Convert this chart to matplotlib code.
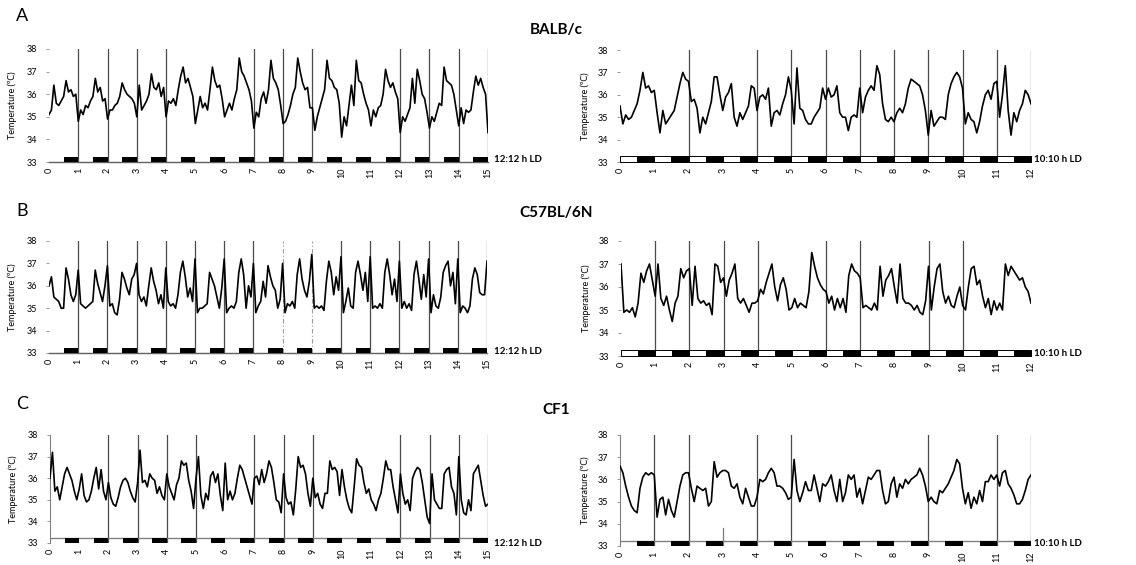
import numpy as np
import matplotlib
matplotlib.use("Agg")
import matplotlib.pyplot as plt
from matplotlib.patches import Rectangle

plt.rcParams['font.family'] = ['Lato', 'DejaVu Sans']

# ---------------- data (temperature, sampled every 1/12 day or cycle) ----------------
balb_1212 = [
    35.1, 35.3, 36.4, 35.6, 35.5, 35.7, 35.9, 36.6, 36.1, 36.2, 35.9, 36.0,
    34.8, 35.3, 35.1, 35.5, 35.4, 35.7, 35.9, 36.7, 36.1, 36.3, 35.7, 35.8,
    34.9, 35.3, 35.3, 35.5, 35.6, 35.9, 36.5, 36.2, 36.0, 35.9, 35.8, 35.6,
    35.0, 36.4, 35.3, 35.5, 35.7, 36.0, 36.9, 36.3, 36.2, 36.5, 35.9, 36.3,
    35.0, 35.7, 35.6, 35.8, 35.5, 36.2, 36.8, 37.2, 36.5, 36.7, 36.3, 35.9,
    34.7, 35.3, 35.9, 35.4, 35.6, 35.3, 36.2, 37.2, 36.6, 36.3, 36.4, 35.8,
    35.0, 35.3, 35.6, 35.3, 35.8, 36.2, 37.6, 37.0, 36.8, 36.5, 36.2, 35.7,
    34.5, 35.2, 35.0, 35.8, 36.1, 35.6, 36.2, 37.5, 36.7, 36.5, 36.2, 35.5,
    34.7, 34.8, 35.1, 35.5, 36.0, 36.3, 37.6, 37.0, 36.5, 36.2, 36.3, 35.4,
    35.4, 34.4, 35.0, 35.4, 35.8, 36.2, 37.5, 36.7, 36.6, 36.3, 36.2, 35.6,
    34.1, 35.0, 34.6, 35.5, 36.4, 35.5, 37.5, 36.6, 36.5, 36.0, 35.6, 35.3,
    34.6, 35.3, 35.0, 35.4, 35.5, 36.0, 37.1, 36.6, 36.3, 36.5, 36.1, 35.8,
    34.3, 35.0, 34.8, 35.1, 35.4, 36.7, 35.6, 37.1, 36.6, 36.0, 35.8, 35.2,
    34.5, 35.0, 34.8, 35.2, 35.6, 35.5, 37.2, 36.6, 36.5, 36.4, 36.0, 35.3,
    34.6, 35.4, 34.7, 35.3, 35.2, 35.3, 36.1, 36.8, 36.4, 36.7, 36.3, 36.0,
    34.3]

balb_1010 = [
    35.5, 34.7, 35.1, 34.9, 35.0, 35.3, 35.6, 36.2, 37.0, 36.3, 36.4, 36.1,
    36.2, 35.2, 34.3, 35.3, 34.7, 34.9, 35.1, 35.3, 35.9, 36.5, 37.0, 36.7,
    36.6, 35.7, 35.8, 35.4, 34.3, 35.0, 34.7, 35.2, 35.7, 36.8, 36.8, 36.0,
    35.3, 35.9, 36.1, 36.5, 35.0, 34.6, 35.2, 34.9, 35.2, 35.5, 36.4, 36.3,
    35.3, 35.9, 36.0, 35.8, 36.3, 34.6, 35.2, 35.3, 35.1, 35.6, 36.0, 36.8,
    36.2, 34.7, 37.2, 35.4, 35.3, 34.9, 34.7, 34.7, 35.0, 35.2, 35.4, 36.3,
    35.8, 36.3, 35.9, 36.0, 36.4, 35.2, 35.0, 35.0, 34.4, 35.0, 35.1, 35.0,
    36.3, 35.2, 35.9, 36.2, 36.4, 36.2, 37.3, 36.9, 35.6, 34.9, 34.8, 35.0,
    34.8, 35.2, 35.4, 35.2, 35.6, 36.3, 36.7, 36.6, 36.5, 36.4, 36.0, 35.3,
    34.2, 35.3, 34.6, 34.8, 35.0, 35.0, 34.9, 36.0, 36.5, 36.8, 37.0, 36.8,
    36.3, 34.7, 35.2, 34.9, 34.8, 34.3, 34.8, 35.5, 36.0, 36.2, 35.8, 36.5,
    36.6, 35.0, 36.0, 37.3, 35.3, 34.2, 35.2, 34.8, 35.3, 35.6, 36.2, 36.0,
    35.6]

c57_1212 = [
    36.0, 36.4, 35.5, 35.4, 35.3, 35.0, 35.0, 36.8, 36.3, 35.6, 35.3, 35.6,
    36.7, 35.2, 35.1, 35.0, 35.1, 35.2, 35.3, 36.7, 36.1, 35.7, 35.3, 36.0,
    36.9, 35.1, 35.2, 34.8, 34.7, 35.4, 36.6, 36.3, 35.9, 35.6, 36.3, 36.5,
    37.0, 35.6, 35.3, 35.5, 35.1, 36.0, 36.8, 36.2, 35.8, 35.2, 35.6, 35.0,
    36.8, 35.3, 35.1, 35.2, 35.0, 35.6, 36.6, 37.1, 36.4, 35.5, 35.9, 35.3,
    37.2, 34.8, 35.0, 35.0, 35.1, 35.2, 36.6, 36.3, 36.0, 35.5, 35.0, 35.9,
    37.2, 34.8, 35.0, 35.1, 35.0, 35.3, 36.6, 37.2, 36.5, 35.0, 36.0, 35.5,
    37.0, 34.8, 35.1, 35.3, 36.2, 35.5, 36.9, 36.4, 36.0, 35.8, 35.0, 35.4,
    37.0, 34.8, 35.2, 35.1, 35.3, 35.0, 36.5, 37.2, 36.3, 35.8, 35.5, 36.2,
    37.4, 35.0, 35.1, 35.0, 35.1, 34.9, 36.2, 37.1, 36.6, 35.6, 36.4, 35.8,
    37.3, 34.8, 35.3, 35.9, 35.1, 35.0, 36.6, 37.1, 36.5, 35.8, 36.6, 35.3,
    37.3, 35.0, 35.1, 35.0, 35.2, 35.0, 36.6, 37.2, 36.5, 35.6, 36.3, 35.3,
    37.1, 35.0, 35.3, 35.0, 35.2, 34.9, 36.5, 37.1, 36.3, 35.4, 36.5, 35.5,
    37.2, 34.8, 35.6, 35.1, 35.0, 35.5, 36.6, 36.9, 37.1, 36.0, 36.6, 35.2,
    37.2, 34.8, 35.1, 35.0, 34.8, 35.1, 36.3, 36.8, 36.5, 35.7, 35.6, 35.6,
    37.1]

c57_1010 = [
    37.0, 34.9, 35.0, 34.9, 35.1, 34.7, 35.3, 36.6, 36.2, 36.7, 37.0, 36.3,
    35.6, 37.0, 35.5, 35.2, 35.6, 35.0, 34.5, 35.3, 35.6, 36.8, 36.4, 36.7,
    36.8, 35.2, 36.9, 35.5, 35.3, 35.4, 35.2, 35.3, 34.8, 37.0, 36.9, 36.2,
    36.4, 35.6, 36.3, 36.6, 37.0, 35.5, 35.3, 35.5, 35.2, 34.9, 35.3, 35.3,
    35.4, 35.9, 35.7, 36.2, 36.6, 37.0, 36.0, 35.4, 36.1, 36.4, 35.9, 35.0,
    35.1, 35.5, 35.1, 35.3, 35.2, 35.1, 35.8, 37.5, 36.9, 36.4, 36.1, 35.9,
    35.8, 35.3, 35.6, 35.0, 35.5, 35.1, 35.5, 34.9, 36.5, 37.0, 36.7, 36.6,
    36.4, 35.1, 35.2, 35.1, 35.0, 35.3, 35.0, 36.9, 35.6, 36.3, 36.5, 36.8,
    36.0, 35.3, 37.0, 35.5, 35.3, 35.3, 35.2, 35.0, 35.2, 34.9, 34.8, 35.4,
    36.9, 35.0, 36.0, 36.8, 37.0, 35.8, 35.3, 35.6, 35.2, 35.1, 35.6, 36.0,
    35.2, 35.0, 36.0, 36.8, 36.9, 36.1, 36.3, 35.6, 35.1, 35.5, 34.8, 35.4,
    35.0, 35.3, 35.0, 37.0, 36.5, 36.9, 36.7, 36.5, 36.3, 36.4, 36.0, 35.8,
    35.3]

cf1_1212 = [
    36.0, 37.2, 35.4, 35.6, 35.0, 35.6, 36.2, 36.5, 36.2, 35.9, 35.4, 35.0,
    35.5, 36.2, 35.2, 34.9, 35.0, 35.4, 36.0, 36.5, 35.5, 36.4, 35.4, 35.0,
    35.8, 35.1, 34.8, 34.7, 35.1, 35.6, 35.9, 36.0, 35.8, 35.4, 35.1, 34.9,
    35.8, 37.3, 35.8, 35.9, 35.6, 36.2, 36.0, 35.9, 35.3, 35.6, 35.2, 35.0,
    36.2, 35.6, 35.3, 35.0, 35.7, 36.0, 36.8, 36.6, 36.7, 35.9, 35.4, 34.6,
    36.0, 37.0, 35.2, 34.6, 35.3, 35.0, 36.1, 36.3, 35.8, 36.2, 35.2, 34.5,
    36.7, 35.0, 35.4, 35.0, 35.3, 36.0, 36.6, 36.4, 36.0, 35.6, 35.2, 34.8,
    36.0, 36.1, 35.7, 36.4, 35.8, 36.2, 36.8, 36.5, 35.8, 35.0, 34.9, 34.4,
    36.2, 35.1, 34.8, 34.9, 34.3, 35.5, 37.0, 36.5, 36.6, 36.2, 35.3, 34.7,
    36.0, 35.1, 35.3, 34.8, 34.6, 35.3, 35.3, 36.8, 36.4, 36.5, 36.3, 35.2,
    36.4, 35.6, 35.0, 34.6, 34.4, 35.6, 36.9, 36.6, 36.5, 35.8, 35.3, 35.5,
    35.0, 34.8, 34.5, 35.0, 35.3, 36.0, 36.8, 36.4, 36.4, 35.6, 35.0, 34.4,
    36.2, 35.3, 34.8, 35.0, 34.5, 36.0, 36.3, 36.5, 36.4, 35.8, 35.0, 34.2,
    33.9, 36.2, 35.0, 34.8, 34.6, 34.6, 36.2, 36.4, 36.5, 35.6, 35.3, 34.3,
    37.0, 35.0, 34.4, 34.3, 35.0, 34.5, 36.2, 36.4, 36.6, 35.9, 35.2, 34.7,
    34.8]

cf1_1010 = [
    36.6, 36.3, 35.7, 35.2, 34.8, 34.6, 34.5, 35.6, 36.1, 36.3, 36.2, 36.3,
    36.2, 34.3, 35.1, 35.2, 34.4, 35.1, 34.6, 34.3, 35.0, 35.7, 36.2, 36.3,
    36.3, 35.6, 35.0, 35.7, 35.6, 35.5, 35.6, 34.8, 35.0, 36.8, 36.1, 36.3,
    36.4, 36.4, 36.3, 35.7, 35.6, 35.8, 35.2, 34.9, 35.6, 35.2, 34.8, 34.8,
    35.2, 36.0, 35.9, 36.0, 36.3, 36.5, 36.3, 35.7, 35.7, 35.6, 35.4, 35.1,
    35.2, 36.9, 35.5, 35.0, 35.4, 35.9, 35.5, 35.5, 36.2, 35.6, 35.0, 35.8,
    35.7, 35.9, 36.2, 35.5, 35.0, 36.0, 35.0, 35.4, 36.2, 36.0, 36.2, 35.2,
    35.6, 34.9, 35.5, 36.1, 36.0, 36.2, 36.4, 36.4, 35.5, 34.9, 35.0, 35.8,
    36.1, 35.2, 35.8, 35.6, 36.0, 35.8, 36.0, 36.1, 36.2, 36.5, 36.2, 35.7,
    35.0, 35.2, 35.0, 34.9, 35.5, 35.4, 35.6, 35.8, 36.1, 36.4, 36.9, 36.7,
    35.6, 34.9, 35.4, 34.7, 35.2, 34.9, 35.5, 35.0, 35.9, 35.9, 36.2, 36.0,
    36.2, 35.7, 36.3, 36.4, 35.8, 35.6, 35.3, 34.9, 34.9, 35.1, 35.5, 36.0,
    36.2]

strains = ["BALB/c", "C57BL/6N", "CF1"]
panel_letters = ["A", "B", "C"]
yticks = [33, 34, 35, 36, 37, 38]

vlines_a_left = [1, 2, 3, 4, 7, 8, 9, 12, 13, 14, 15]
vlines_a_right = [2, 4, 5, 6, 7, 8, 9, 10, 11, 12]
vlines_b_left = [1, 2, 3, 4, 5, 6, 7, 10, 11, 12, 13, 14, 15]
faint_b_left = [8, 9]
vlines_b_right = [1, 2, 3, 4, 6, 7, 9, 10]
vlines_c_left = [2, 3, 4, 5, 7, 8, 9, 12, 13, 14, 15]
vlines_c_right = [1, 2, 4, 5, 9, 11, 12]
short_c_right = [3]

W, H = 1136, 565
fig = plt.figure(figsize=(W / 100, H / 100), dpi=100)


def rect(x0, x1, ytop, ybot):
    return [x0 / W, 1 - ybot / H, (x1 - x0) / W, (ybot - ytop) / H]


def panel(r, temps, ncyc, vlines, mode, left_spine=False, strip_line=False,
          faint=(), short=()):
    ax = fig.add_axes(r)
    t = np.arange(len(temps)) / 12.0
    ax.set_xlim(0, ncyc)
    ax.set_ylim(33, 38)
    for v in vlines:
        ax.plot([v, v], [33, 38], color='#4a4a4a', lw=0.9, zorder=2)
    for v in faint:
        ax.plot([v, v], [33, 38], color='#9a9a9a', lw=0.8, ls=(0, (4, 2, 1, 2)), zorder=2)
    for v in short:
        ax.plot([v, v], [33, 33.8], color='#7a7a7a', lw=0.9, zorder=2)
    ax.plot(t, temps, color='black', lw=1.2, zorder=3)
    # light/dark bar
    for k in range(ncyc):
        if mode == '1010':
            ax.add_patch(Rectangle((k, 33.0), 0.5, 0.26, facecolor='white',
                                   edgecolor='black', lw=0.7, zorder=4, clip_on=False))
            ax.add_patch(Rectangle((k + 0.5, 33.0), 0.5, 0.26, facecolor='black',
                                   edgecolor='black', lw=0.7, zorder=4, clip_on=False))
        else:
            ax.add_patch(Rectangle((k + 0.5, 33.0), 0.5, 0.22, facecolor='black',
                                   edgecolor='none', zorder=4, clip_on=False))
    if strip_line:
        ax.plot([0, ncyc], [33.22, 33.22], color='#808080', lw=1.0, zorder=3)
    for s in ['top', 'right']:
        ax.spines[s].set_visible(False)
    ax.spines['left'].set_visible(left_spine)
    ax.spines['left'].set_color('#808080')
    ax.spines['bottom'].set_visible(mode != '1010' and not strip_line)
    ax.spines['bottom'].set_color('#606060')
    ax.spines['bottom'].set_linewidth(1.0)
    ax.set_yticks(yticks)
    ax.set_yticklabels([str(v) for v in yticks], fontsize=6.5)
    ax.set_xticks(range(ncyc + 1))
    ax.set_xticklabels([str(v) for v in range(ncyc + 1)], fontsize=6.5, rotation=90)
    ax.tick_params(axis='y', length=2.5, width=0.6, color='#888888', pad=6)
    ax.tick_params(axis='x', length=0, pad=4)
    ax.set_ylabel('Temperature (ºC)', fontsize=6.5)
    ax.yaxis.set_label_coords(-0.074, 0.5)
    ax.set_facecolor('none')
    return ax


# row A
panel(rect(49, 488, 49, 162), balb_1212, 15, vlines_a_left, '1212')
panel(rect(620, 1031, 50, 162), balb_1010, 12, vlines_a_right, '1010')
# row B
panel(rect(49, 487, 241, 353), c57_1212, 15, vlines_b_left, '1212', faint=faint_b_left)
panel(rect(621, 1031, 241, 356), c57_1010, 12, vlines_b_right, '1010')
# row C
panel(rect(50, 488, 435, 543), cf1_1212, 15, vlines_c_left, '1212',
      left_spine=True, strip_line=True)
panel(rect(620, 1031, 435, 546), cf1_1010, 12, vlines_c_right, '1212',
      left_spine=True, strip_line=True, short=short_c_right)

# texts
letter_y = [16, 211, 404]
title_y = [30, 213, 410]
ld_y = [[160, 160], [352, 353], [543, 543]]
for i in range(3):
    fig.text(22 / W, 1 - letter_y[i] / H, panel_letters[i], fontsize=13,
             ha='center', va='center')
    fig.text(556 / W, 1 - title_y[i] / H, strains[i], fontsize=11,
             fontweight='bold', ha='center', va='center')
    fig.text(494 / W, 1 - ld_y[i][0] / H, '12:12 h LD', fontsize=7,
             fontweight='bold', ha='left', va='center')
    fig.text(1034 / W, 1 - ld_y[i][1] / H, '10:10 h LD', fontsize=7,
             fontweight='bold', ha='left', va='center')

fig.savefig('out.png', dpi=100, facecolor='white')
